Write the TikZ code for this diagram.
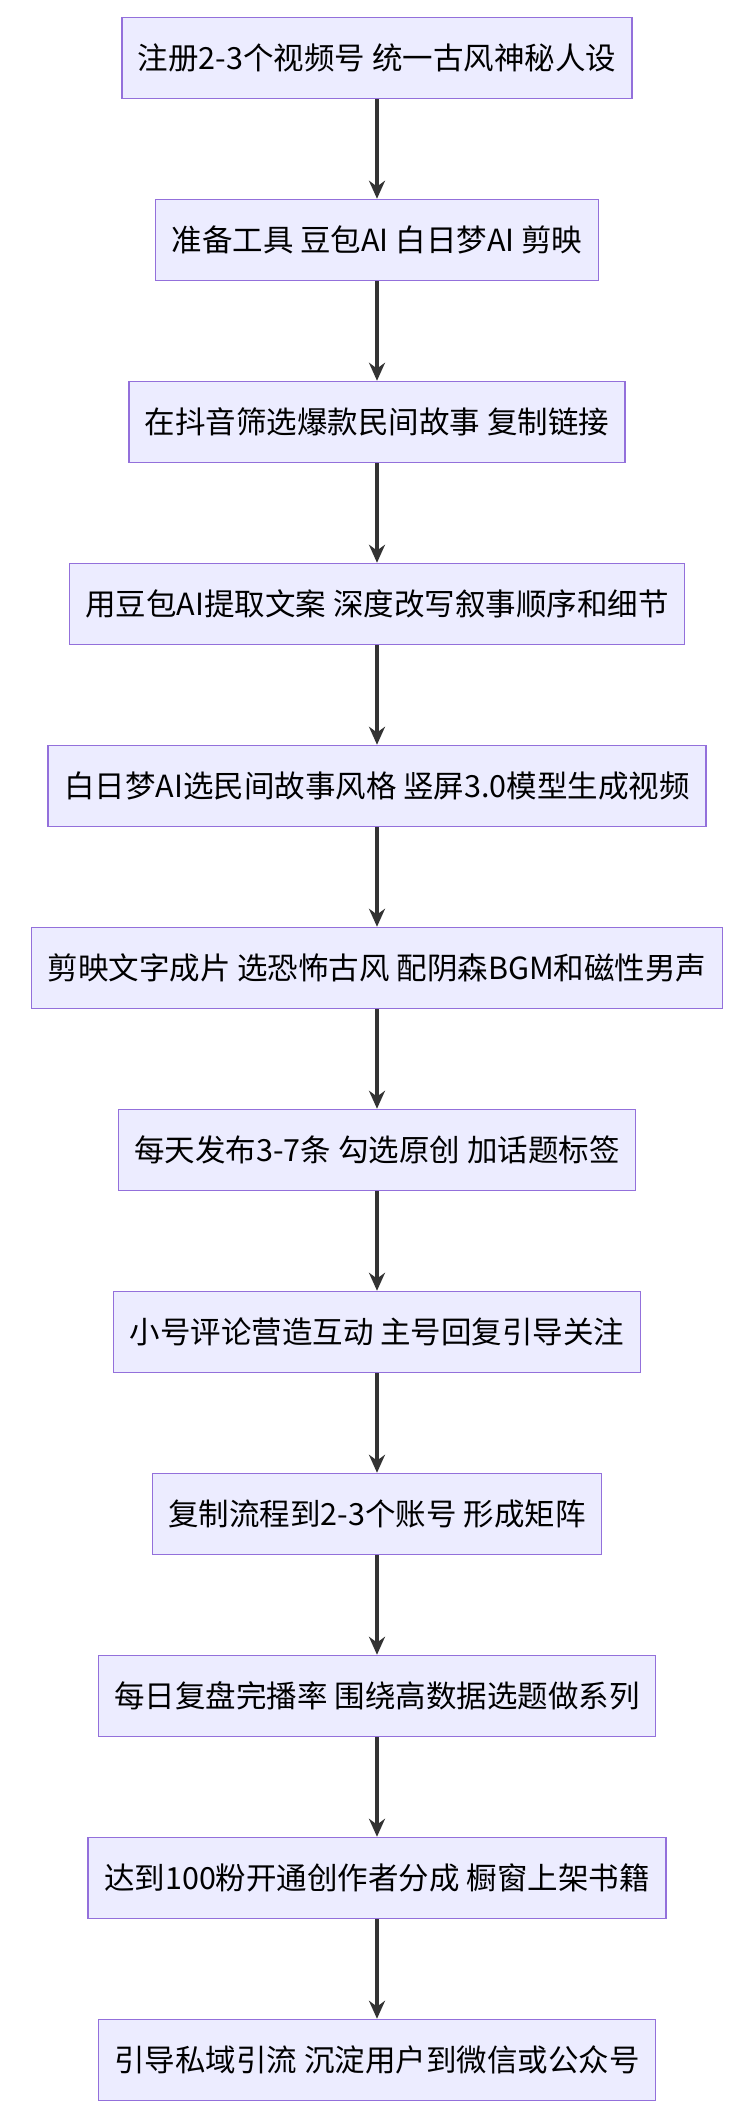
\documentclass[tikz,border=0pt]{standalone}
\usepackage{fontspec}
\setmainfont{Noto Sans CJK SC}
\usetikzlibrary{arrows.meta}
\definecolor{boxfill}{HTML}{ECECFF}
\definecolor{boxline}{HTML}{9370DB}
\definecolor{arrowc}{HTML}{333333}
\begin{document}
\begin{tikzpicture}[x=1pt,y=-1pt,
    stepbox/.style={draw=boxline,fill=boxfill,line width=1.5pt,inner xsep=16pt,minimum height=81pt,font=\fontsize{30.5}{34}\selectfont},
    flow/.style={-{Stealth[length=18pt,width=16pt]},draw=arrowc,line width=3.5pt}]
            \useasboundingbox (0,0) rectangle (752,2110);

            \node[stepbox] (S1) at (377, 58) {注册2-3个视频号 统一古风神秘人设};
            \node[stepbox] (S2) at (377, 240) {准备工具 豆包AI 白日梦AI 剪映};
            \node[stepbox] (S3) at (377, 422) {在抖音筛选爆款民间故事 复制链接};
            \node[stepbox] (S4) at (377, 604) {用豆包AI提取文案 深度改写叙事顺序和细节};
            \node[stepbox] (S5) at (377, 786) {白日梦AI选民间故事风格 竖屏3.0模型生成视频};
            \node[stepbox] (S6) at (377, 968) {剪映文字成片 选恐怖古风 配阴森BGM和磁性男声};
            \node[stepbox] (S7) at (377, 1150) {每天发布3-7条 勾选原创 加话题标签};
            \node[stepbox] (S8) at (377, 1332) {小号评论营造互动 主号回复引导关注};
            \node[stepbox] (S9) at (377, 1514) {复制流程到2-3个账号 形成矩阵};
            \node[stepbox] (S10) at (377, 1696) {每日复盘完播率 围绕高数据选题做系列};
            \node[stepbox] (S11) at (377, 1878) {达到100粉开通创作者分成 橱窗上架书籍};
            \node[stepbox] (S12) at (377, 2060) {引导私域引流 沉淀用户到微信或公众号};

            \foreach \a/\b in {S1/S2,S2/S3,S3/S4,S4/S5,S5/S6,S6/S7,S7/S8,S8/S9,S9/S10,S10/S11,S11/S12}
                \draw[flow] (\a) -- (\b);

        \end{tikzpicture}
\end{document}
